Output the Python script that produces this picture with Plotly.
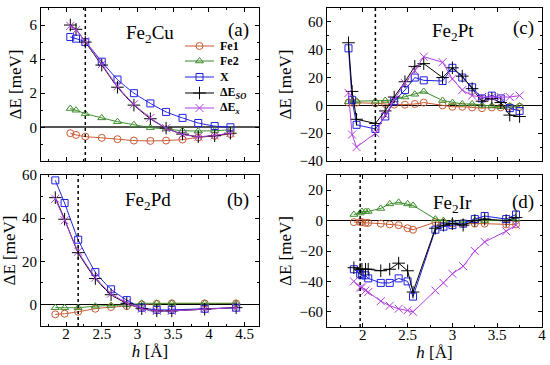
import plotly.graph_objects as go

# ---------------- data ----------------
series_names = ["Fe1", "Fe2", "X", "ΔE<sub><i>SO</i></sub>", "ΔE<sub><i>x</i></sub>"]
panel_titles = ["Fe<sub>2</sub>Cu", "Fe<sub>2</sub>Pd", "Fe<sub>2</sub>Pt", "Fe<sub>2</sub>Ir"]
panel_tags = ["(a)", "(b)", "(c)", "(d)"]

h_cu = [2.06, 2.14, 2.27, 2.50, 2.72, 2.95, 3.18, 3.40, 3.63, 3.85, 4.08, 4.30]
cu_fe1 = [-0.35, -0.45, -0.55, -0.62, -0.70, -0.78, -0.80, -0.78, -0.72, -0.60, -0.50, -0.40]
cu_fe2 = [1.10, 1.00, 0.80, 0.55, 0.33, 0.15, -0.02, -0.10, -0.20, -0.22, -0.20, -0.15]
cu_x = [5.30, 5.20, 5.00, 3.85, 2.80, 2.00, 1.40, 0.90, 0.55, 0.25, 0.07, 0.00]
cu_so = [6.00, 5.75, 5.00, 3.65, 2.35, 1.30, 0.50, -0.05, -0.40, -0.55, -0.50, -0.35]
cu_ex = [5.95, 5.70, 5.05, 3.70, 2.40, 1.35, 0.55, -0.05, -0.42, -0.55, -0.48, -0.33]

h_pd = [1.85, 1.98, 2.17, 2.41, 2.63, 2.85, 3.06, 3.27, 3.48, 3.94, 4.38]
pd_fe1 = [-4.6, -4.3, -3.4, -2.0, -1.2, -0.8, 0.0, 0.3, 0.5, 0.5, 0.5]
pd_fe2 = [-1.5, -1.5, -1.5, -0.8, -0.5, -0.2, 0.5, 0.5, 0.5, 0.5, 0.5]
pd_x = [57.5, 47.0, 30.0, 15.0, 7.0, 2.0, -1.5, -2.5, -2.5, -2.0, -1.5]
pd_so = [49.5, 39.5, 24.0, 12.0, 4.5, 0.5, -2.0, -3.0, -3.0, -2.2, -1.5]
pd_ex = [49.0, 39.0, 24.5, 12.5, 5.0, 0.8, -2.0, -3.0, -3.0, -2.2, -1.5]

h_pt = [1.84, 1.88, 1.93, 2.14, 2.25, 2.35, 2.47, 2.58, 2.68, 2.89, 3.00, 3.11, 3.22, 3.33, 3.44, 3.54, 3.64, 3.75]
pt_fe1 = [2, 2, 2, 1.5, 1, 0.5, 0.5, 1, 2, 0, -1, -1, -1.5, -2, -1.5, -1.5, -1, -1]
pt_fe2 = [2.5, 3, 3, 3, 3.5, 4, 6, 8, 10, 3.5, 2, 1, 1, 0, -0.5, -1, -0.5, -0.5]
pt_x = [41, 4, -14, -17, -8, 3, 11, 20, 18, 17.5, 27, 20, 13, 5, 7, 5, -2, -4]
pt_so = [45, 10, -10, -13, -4, 6, 17, 28, 30, 20, 27, 21, 12, 3, 5, 2, -7, -8]
pt_ex = [9, -21, -30, -20, -7, 4, 16, 25, 35, 31, 19, 11, 7, 6, 6, 6, 6, 7]

h_ir = [1.90, 1.97, 1.99, 2.03, 2.06, 2.20, 2.30, 2.40, 2.50, 2.56, 2.81, 2.90, 3.00, 3.12, 3.25, 3.36, 3.60, 3.71]
ir_fe1 = [-1, -1, -1, -1.5, -1.5, -2, -2.5, -3, -5, -6, -1, -1.5, -2, -2, -2, -2, -2.5, -2.5]
ir_fe2 = [4, 5, 6, 6, 6, 8, 11, 12, 11, 10, 1, 0, -1, -1, 0, 0, 0, 1]
ir_x = [-32, -35, -36, -36, -38, -41, -41, -38, -40, -50, -6, -4, -3, -2, 1, 3, 1, 4]
ir_so = [-31, -32, -32, -32, -32, -33, -32, -28, -33, -47, -5, -3, -2, -3, 0, 1, 0, 2]
ir_ex = [-40, -44, -44, -46, -47, -53, -56, -58, -59, -60, -46, -41, -35, -30, -20, -14, -7, -3]

dashed_h = [2.27, 2.17, 2.14, 1.97]

# ---------------- style / layout ----------------
FONT = "Liberation Serif"
colors = ["#c85a32", "#3c8c2a", "#2020e0", "#000000", "#b040e0"]
symbols = ["circle-open", "triangle-up-open", "square-open", "cross-thin-open", "x-thin-open"]
msizes = [7, 7, 7, 9, 8]

W, H = 550, 365
def xd(l, r):
    return [l / W, r / W]
def yd(t, b):
    return [1 - b / H, 1 - t / H]

# pixel positions (centres) of panel name / tag labels
title_pos = [(150, 34), (148, 201), (453, 32), (452, 204)]
tag_pos = [(238, 30), (238, 200), (523, 28), (523, 202)]
# manual legend (pixel layout)
leg_line_x = (185, 214)
leg_text_x = 219
leg_rows = [46, 61, 77, 93, 108]

panels = [
    dict(h=h_cu, ys=[cu_fe1, cu_fe2, cu_x, cu_so, cu_ex], shape="spline",
         xdom=xd(41, 259), ydom=yd(8, 161), xr=[1.65, 4.7], yr=[-1.98, 7], dt=2, mdt=1,
         xlab=False, zc="#555555", zw=1.8),
    dict(h=h_pd, ys=[pd_fe1, pd_fe2, pd_x, pd_so, pd_ex], shape="spline",
         xdom=xd(41, 259), ydom=yd(175, 326), xr=[1.65, 4.7], yr=[-10, 60], dt=20, mdt=10,
         xlab=True, zc="#000000", zw=1),
    dict(h=h_pt, ys=[pt_fe1, pt_fe2, pt_x, pt_so, pt_ex], shape="linear",
         xdom=xd(327, 542), ydom=yd(8, 161), xr=[1.6, 4.0], yr=[-40, 70], dt=20, mdt=10,
         xlab=False, zc="#000000", zw=1),
    dict(h=h_ir, ys=[ir_fe1, ir_fe2, ir_x, ir_so, ir_ex], shape="linear",
         xdom=xd(327, 542), ydom=yd(175, 327), xr=[1.6, 4.0], yr=[-70, 30], dt=20, mdt=10,
         xlab=True, zc="#000000", zw=1),
]

fig = go.Figure()
layout = {}
for i, p in enumerate(panels):
    n = "" if i == 0 else str(i + 1)
    for k in range(5):
        fig.add_trace(go.Scatter(
            x=p["h"], y=p["ys"][k], mode="lines+markers", name=series_names[k],
            line=dict(color=colors[k], width=1, shape=p["shape"], smoothing=0.5),
            marker=dict(symbol=symbols[k], size=msizes[k], color=colors[k],
                        line=dict(color=colors[k], width=1)),
            xaxis="x" + n, yaxis="y" + n, showlegend=False,
        ))
    layout["xaxis" + n] = dict(
        domain=p["xdom"], anchor="y" + n, range=p["xr"], dtick=0.5, tick0=2,
        showticklabels=p["xlab"], ticks="inside", ticklen=4, tickcolor="black",
        minor=dict(ticks="inside", ticklen=2, dtick=0.25, tick0=2, tickcolor="black"),
        showline=True, linecolor="black", linewidth=1, mirror="allticks",
        showgrid=False, zeroline=False, ticklabelstandoff=-6,
        tickfont=dict(family=FONT, size=15, color="black"),
        title=dict(text="<i>h</i> [Å]" if p["xlab"] else "", standoff=3,
                   font=dict(family=FONT, size=17, color="black")),
    )
    layout["yaxis" + n] = dict(
        domain=p["ydom"], anchor="x" + n, range=p["yr"], dtick=p["dt"], tick0=0,
        ticks="inside", ticklen=4, tickcolor="black",
        minor=dict(ticks="inside", ticklen=2, dtick=p["mdt"], tick0=0, tickcolor="black"),
        showline=True, linecolor="black", linewidth=1, mirror="allticks",
        showgrid=False, zeroline=True, zerolinecolor=p["zc"], zerolinewidth=p["zw"],
        tickfont=dict(family=FONT, size=15, color="black"),
        title=dict(text="ΔE [meV]", standoff=3, font=dict(family=FONT, size=17, color="black")),
    )
    fig.add_shape(type="line", xref="x" + n, yref="y" + n + " domain",
                  x0=dashed_h[i], x1=dashed_h[i], y0=0, y1=1,
                  line=dict(color="black", width=1.5, dash="dot"))
    fig.add_annotation(text=panel_titles[i], xref="paper", yref="paper",
                       x=title_pos[i][0] / W, y=1 - title_pos[i][1] / H, showarrow=False,
                       xanchor="center", yanchor="middle", borderpad=0,
                       font=dict(family=FONT, size=19, color="black"))
    fig.add_annotation(text=panel_tags[i], xref="paper", yref="paper",
                       x=tag_pos[i][0] / W, y=1 - tag_pos[i][1] / H, showarrow=False,
                       xanchor="center", yanchor="middle", borderpad=0,
                       font=dict(family=FONT, size=19, color="black"))

# manual legend on a hidden pixel-space overlay axis
layout["xaxis5"] = dict(domain=[0, 1], range=[0, W], visible=False, anchor="y5")
layout["yaxis5"] = dict(domain=[0, 1], range=[H, 0], visible=False, anchor="x5")
for k in range(5):
    yk = leg_rows[k]
    fig.add_trace(go.Scatter(
        x=[leg_line_x[0], leg_line_x[1]], y=[yk, yk],
        mode="lines", showlegend=False, hoverinfo="skip",
        line=dict(color=colors[k], width=1), xaxis="x5", yaxis="y5"))
    fig.add_trace(go.Scatter(
        x=[(leg_line_x[0] + leg_line_x[1]) / 2], y=[yk],
        mode="markers", showlegend=False, hoverinfo="skip",
        marker=dict(symbol=symbols[k], size=msizes[k], color=colors[k],
                    line=dict(color=colors[k], width=1)),
        xaxis="x5", yaxis="y5"))
    fig.add_annotation(text="<b>" + series_names[k] + "</b>", xref="paper", yref="paper",
                       x=leg_text_x / W, y=1 - yk / H, xanchor="left", yanchor="middle",
                       showarrow=False, borderpad=0,
                       font=dict(family=FONT, size=12, color="black"))

fig.update_layout(
    width=W, height=H, margin=dict(l=0, r=0, t=0, b=0, autoexpand=False),
    paper_bgcolor="white", plot_bgcolor="rgba(0,0,0,0)", showlegend=False,
    **layout,
)
fig.write_html("out.html", config={"displayModeBar": False},
               post_script="document.body.style.margin='0';document.body.style.overflow='hidden';")
